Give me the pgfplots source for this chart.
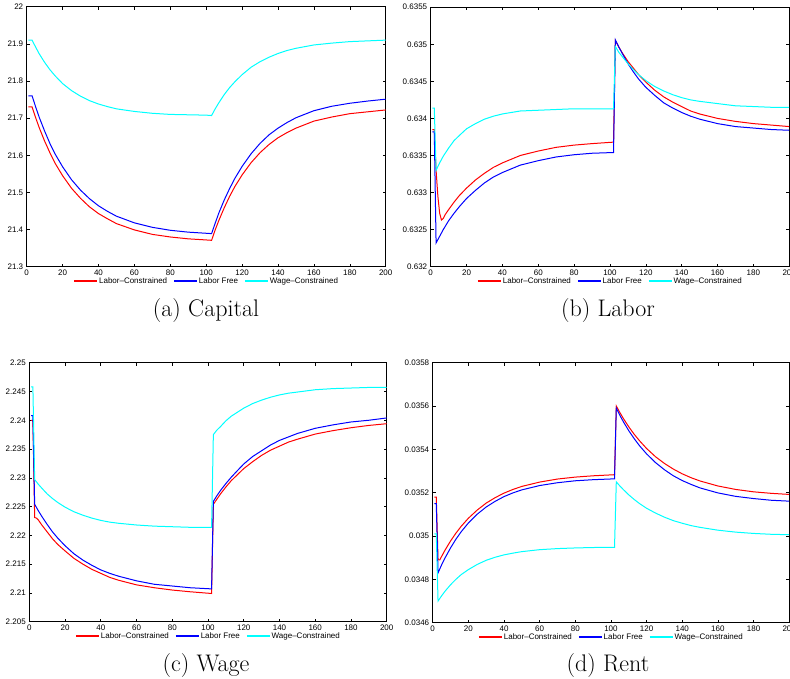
\documentclass[border=0pt]{standalone}
\usepackage{fontspec}
\setsansfont{Liberation Sans}
\usepackage{pgfplots}
\pgfplotsset{compat=1.18}
\definecolor{mred}{rgb}{1,0,0}
\definecolor{mblue}{rgb}{0,0,1}
\definecolor{mcyan}{rgb}{0,1,1}
\pgfplotsset{
  legend image code/.code={\draw[#1, line width=1.8pt] (0pt,0pt) -- (23pt,0pt);},
  mystyle/.style={
    scale only axis,
    xmin=0, xmax=200, xtick={0,20,40,60,80,100,120,140,160,180,200},
    tick align=inside,
    major tick length=3pt,
    axis line style={line width=0.9pt},
    every tick/.style={black, line width=0.6pt},
    tick label style={font=\fontsize{8}{9}\selectfont\sffamily},
    /pgf/number format/assume math mode=true,
    scaled y ticks=false,
    yticklabel style={/pgf/number format/fixed, /pgf/number format/precision=4},
    legend columns=3,
    legend style={draw=none, fill=none, at={(0.5,-0.055)}, anchor=center, inner sep=0pt,
      font=\fontsize{8}{9}\selectfont\sffamily, nodes={inner sep=1pt},
      /tikz/every even column/.append style={column sep=5pt}},
    every axis plot/.append style={line width=1pt},
  }
}
\begin{document}
\begin{tikzpicture}
% (a) Capital
\begin{axis}[mystyle, at={(26.7pt,412.3pt)}, anchor=south west, width=359pt, height=260pt,
  ymin=21.3, ymax=22, ytick={21.3,21.4,21.5,21.6,21.7,21.8,21.9,22}]
\addplot[mred] coordinates {(1,21.730)(3,21.730)(5,21.701)(7,21.674)(10,21.638)(13,21.606)(16,21.577)(20,21.545)(25,21.511)(30,21.484)(35,21.461)(40,21.443)(45,21.429)(50,21.416)(60,21.399)(70,21.387)(80,21.380)(90,21.375)(100,21.372)(103,21.371)(105,21.399)(107,21.424)(110,21.458)(113,21.489)(116,21.516)(120,21.547)(125,21.580)(130,21.607)(135,21.629)(140,21.647)(145,21.661)(150,21.673)(160,21.692)(170,21.703)(180,21.712)(190,21.717)(200,21.722)};
\addplot[mblue] coordinates {(1,21.760)(3,21.760)(5,21.730)(7,21.702)(10,21.665)(13,21.631)(16,21.602)(20,21.569)(25,21.534)(30,21.506)(35,21.483)(40,21.464)(45,21.449)(50,21.436)(60,21.418)(70,21.406)(80,21.398)(90,21.393)(100,21.390)(103,21.389)(105,21.417)(107,21.444)(110,21.479)(113,21.510)(116,21.538)(120,21.570)(125,21.604)(130,21.632)(135,21.655)(140,21.673)(145,21.688)(150,21.701)(160,21.720)(170,21.732)(180,21.740)(190,21.746)(200,21.751)};
\addplot[mcyan] coordinates {(1,21.910)(3,21.910)(5,21.891)(7,21.873)(10,21.850)(13,21.830)(16,21.813)(20,21.793)(25,21.774)(30,21.759)(35,21.747)(40,21.738)(45,21.731)(50,21.725)(60,21.718)(70,21.713)(80,21.710)(90,21.709)(100,21.708)(103,21.707)(105,21.725)(107,21.741)(110,21.763)(113,21.782)(116,21.798)(120,21.817)(125,21.837)(130,21.852)(135,21.864)(140,21.874)(145,21.882)(150,21.888)(160,21.897)(170,21.902)(180,21.906)(190,21.908)(200,21.910)};
\legend{Labor--Constrained, Labor Free, Wage--Constrained}
\end{axis}
% (b) Labor
\begin{axis}[mystyle, at={(430.7pt,412.3pt)}, anchor=south west, width=358.5pt, height=259.5pt,
  ymin=0.632, ymax=0.6355, ytick={0.632,0.6325,0.633,0.6335,0.634,0.6345,0.635,0.6355}]
\addplot[mred] coordinates {(1,.63385)(2,.63385)(3,.63330)(4,.63295)(5,.63272)(6,.63263)(7,.63265)(8,.63270)(10,.63277)(13,.63287)(16,.63296)(20,.63306)(25,.63317)(30,.63326)(35,.63334)(40,.63340)(45,.63345)(50,.63350)(60,.63356)(70,.63361)(80,.63364)(90,.63366)(102,.63368)(103,.63505)(105,.63496)(107,.63488)(110,.63477)(113,.63468)(116,.63459)(120,.63449)(125,.63438)(130,.63429)(135,.63422)(140,.63416)(145,.63410)(150,.63406)(160,.63400)(170,.63396)(180,.63393)(190,.63391)(200,.63389)};
\addplot[mblue] coordinates {(1,.63382)(2,.63382)(3,.63232)(5,.63241)(7,.63250)(10,.63262)(13,.63272)(16,.63281)(20,.63292)(25,.63303)(30,.63313)(35,.63321)(40,.63327)(45,.63332)(50,.63337)(60,.63343)(70,.63348)(80,.63351)(90,.63353)(102,.63354)(103,.63506)(105,.63496)(107,.63487)(110,.63474)(113,.63463)(116,.63453)(120,.63442)(125,.63431)(130,.63421)(135,.63414)(140,.63408)(145,.63403)(150,.63399)(160,.63393)(170,.63389)(180,.63387)(190,.63385)(200,.63384)};
\addplot[mcyan] coordinates {(1,.63414)(2,.63414)(3,.63330)(5,.63340)(7,.63349)(10,.63360)(13,.63370)(16,.63377)(20,.63386)(25,.63393)(30,.63399)(35,.63403)(40,.63406)(45,.63408)(50,.63410)(60,.63411)(70,.63412)(80,.63413)(90,.63413)(102,.63413)(103,.63497)(105,.63489)(107,.63483)(110,.63474)(113,.63466)(116,.63459)(120,.63451)(125,.63443)(130,.63437)(135,.63432)(140,.63428)(145,.63425)(150,.63423)(160,.63420)(170,.63417)(180,.63416)(190,.63415)(200,.63415)};
\legend{Labor--Constrained, Labor Free, Wage--Constrained}
\end{axis}
% (c) Wage
\begin{axis}[mystyle, at={(29.3pt,57.3pt)}, anchor=south west, width=357.4pt, height=259pt,
  ymin=2.205, ymax=2.25, ytick={2.205,2.21,2.215,2.22,2.225,2.23,2.235,2.24,2.245,2.25}]
\addplot[mred] coordinates {(1,2.2400)(2,2.2400)(3,2.2231)(4,2.2230)(5,2.2227)(7,2.2218)(10,2.2206)(13,2.2194)(16,2.2184)(20,2.2173)(25,2.2160)(30,2.2150)(35,2.2141)(40,2.2134)(45,2.2127)(50,2.2122)(60,2.2114)(70,2.2109)(80,2.2105)(90,2.2102)(102,2.2099)(103,2.2254)(105,2.2263)(107,2.2272)(110,2.2284)(113,2.2295)(116,2.2304)(120,2.2316)(125,2.2328)(130,2.2339)(135,2.2348)(140,2.2355)(145,2.2362)(150,2.2367)(160,2.2376)(170,2.2382)(180,2.2387)(190,2.2391)(200,2.2394)};
\addplot[mblue] coordinates {(1,2.2408)(2,2.2408)(3,2.2254)(5,2.2243)(7,2.2233)(10,2.2219)(13,2.2206)(16,2.2195)(20,2.2182)(25,2.2168)(30,2.2157)(35,2.2148)(40,2.2140)(45,2.2134)(50,2.2129)(60,2.2121)(70,2.2115)(80,2.2112)(90,2.2109)(102,2.2107)(103,2.2259)(105,2.2269)(107,2.2278)(110,2.2290)(113,2.2301)(116,2.2311)(120,2.2324)(125,2.2337)(130,2.2347)(135,2.2357)(140,2.2365)(145,2.2371)(150,2.2377)(160,2.2386)(170,2.2392)(180,2.2397)(190,2.2400)(200,2.2404)};
\addplot[mcyan] coordinates {(1,2.2458)(2,2.2458)(3,2.2297)(5,2.2289)(7,2.2282)(10,2.2272)(13,2.2264)(16,2.2257)(20,2.2249)(25,2.2241)(30,2.2235)(35,2.2230)(40,2.2226)(45,2.2223)(50,2.2221)(60,2.2218)(70,2.2216)(80,2.2215)(90,2.2214)(102,2.2214)(103,2.2375)(105,2.2383)(107,2.2389)(110,2.2399)(113,2.2407)(116,2.2413)(120,2.2421)(125,2.2429)(130,2.2435)(135,2.2440)(140,2.2444)(145,2.2447)(150,2.2449)(160,2.2453)(170,2.2455)(180,2.2456)(190,2.2457)(200,2.2457)};
\legend{Labor--Constrained, Labor Free, Wage--Constrained}
\end{axis}
% (d) Rent
\begin{axis}[mystyle, at={(432.7pt,56.3pt)}, anchor=south west, width=356.5pt, height=260pt,
  ymin=0.0346, ymax=0.0358, ytick={0.0346,0.0348,0.035,0.0352,0.0354,0.0356,0.0358}]
\addplot[mred] coordinates {(1,.03518)(2,.03518)(3,.03489)(4,.03489)(5,.034906)(7,.034936)(10,.034977)(13,.035013)(16,.035045)(20,.035082)(25,.03512)(30,.035152)(35,.035177)(40,.035198)(45,.035215)(50,.035229)(60,.035249)(70,.035263)(80,.035272)(90,.035278)(102,.035283)(103,.0356)(105,.03557)(107,.035542)(110,.035504)(113,.03547)(116,.03544)(120,.035404)(125,.035366)(130,.035335)(135,.035309)(140,.035287)(145,.035269)(150,.035254)(160,.035231)(170,.035215)(180,.035204)(190,.035197)(200,.035192)};
\addplot[mblue] coordinates {(1,.03515)(2,.03515)(3,.03483)(5,.034867)(7,.0349)(10,.034945)(13,.034985)(16,.03502)(20,.03506)(25,.035101)(30,.035134)(35,.03516)(40,.035182)(45,.035199)(50,.035213)(60,.035233)(70,.035246)(80,.035255)(90,.03526)(102,.035264)(103,.03559)(105,.035557)(107,.035527)(110,.035486)(113,.03545)(116,.035417)(120,.035379)(125,.035339)(130,.035306)(135,.035278)(140,.035256)(145,.035238)(150,.035222)(160,.035199)(170,.035183)(180,.035173)(190,.035165)(200,.035161)};
\addplot[mcyan] coordinates {(1,.03501)(2,.03501)(3,.0347)(5,.034724)(7,.034746)(10,.034775)(13,.0348)(16,.034822)(20,.034845)(25,.034869)(30,.034888)(35,.034902)(40,.034913)(45,.034921)(50,.034928)(60,.034937)(70,.034942)(80,.034945)(90,.034947)(102,.034948)(103,.03525)(105,.035231)(107,.035214)(110,.03519)(113,.035169)(116,.03515)(120,.035128)(125,.035106)(130,.035087)(135,.035071)(140,.035059)(145,.035048)(150,.03504)(160,.035027)(170,.035018)(180,.035012)(190,.035008)(200,.035006)};
\legend{Labor--Constrained, Labor Free, Wage--Constrained}
\end{axis}
\node[font=\fontsize{24}{28}\selectfont, anchor=base] at (206pt,362.3pt) {(a) Capital};
\node[font=\fontsize{24}{28}\selectfont, anchor=base] at (608pt,362.3pt) {(b) Labor};
\node[font=\fontsize{24}{28}\selectfont, anchor=base] at (206pt,7.5pt) {(c) Wage};
\node[font=\fontsize{24}{28}\selectfont, anchor=base] at (608pt,7.5pt) {(d) Rent};
\pgfresetboundingbox
\path[use as bounding box] (0pt,0pt) rectangle (790pt,679pt);
\end{tikzpicture}
\end{document}
